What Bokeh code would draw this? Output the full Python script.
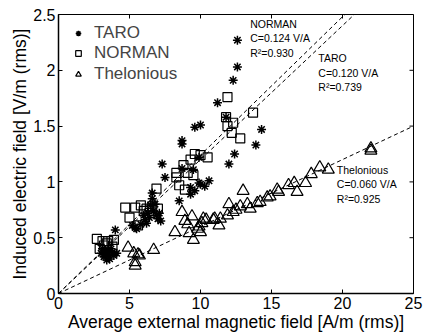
import math
from bokeh.plotting import figure
from bokeh.models import (FixedTicker, NumeralTickFormatter, Legend,
                          LegendItem, Label, Range1d)
from bokeh.embed import file_html
from bokeh.resources import INLINE

# ---- data ----
taro_x = [12.6, 12.6, 12.3, 11.2, 9.6, 10.0, 11.8, 8.7, 8.7, 14.3, 13.9, 12.4, 12.0,
          7.3, 7.5, 9.9, 10.6, 9.9, 9.6, 9.3, 8.5, 8.7, 9.5, 9.3, 10.0, 10.3,
          5.2, 5.5, 6.0, 6.2, 6.6, 6.7, 7.0, 7.2, 6.5, 6.8, 6.3, 6.9, 5.8, 6.4, 7.1, 6.6, 5.4, 6.1,
          3.0, 3.2, 3.3, 3.5, 3.6, 3.8, 3.4, 3.9, 4.1, 3.1, 3.7, 4.0, 3.3, 3.5]
taro_y = [2.27, 2.03, 1.91, 1.71, 1.49, 1.51, 1.58, 1.37, 1.34, 1.47, 1.33, 1.25, 1.16,
          1.16, 1.04, 1.22, 1.01, 0.99, 0.92, 0.89, 0.83, 1.12, 1.11, 0.95, 0.98, 0.96,
          0.61, 0.58, 0.70, 0.63, 0.85, 0.74, 0.67, 0.65, 0.79, 0.80, 0.72, 0.70, 0.62, 0.68, 0.72, 0.90, 0.59, 0.66,
          0.36, 0.33, 0.38, 0.35, 0.31, 0.37, 0.30, 0.34, 0.36, 0.40, 0.40, 0.57, 0.35, 0.39]

norman_x = [11.9, 11.8, 12.3, 11.9, 12.2, 12.8, 13.7, 9.6, 9.3, 10.0, 10.5, 8.8, 8.3, 9.1,
            9.5, 8.3, 8.5, 8.9, 6.9,
            4.7, 5.0, 5.4, 5.8, 5.6, 6.2, 7.0, 6.0, 6.4, 6.6,
            2.7, 3.1, 3.5, 3.9, 2.9, 3.4, 3.8, 3.2]
norman_y = [1.76, 1.58, 1.53, 1.50, 1.44, 1.39, 1.62, 1.25, 1.20, 1.24, 1.22, 1.15, 1.08, 1.08,
            1.06, 1.04, 0.97, 0.93, 0.94,
            0.77, 0.68, 0.77, 0.79, 0.61, 0.76, 0.76, 0.74, 0.72, 0.78,
            0.49, 0.47, 0.47, 0.48, 0.40, 0.45, 0.42, 0.43]

thel_x = [4.9, 5.3, 5.6, 5.7, 5.4, 5.4, 6.7, 8.2, 8.7, 9.4, 8.9, 9.1, 9.2, 9.5, 9.8,
          9.9, 10.0, 10.2, 10.1, 10.4, 10.9, 11.0, 11.3, 11.4, 11.9, 12.0, 12.3, 12.5,
          12.8, 13.0, 13.3, 13.5, 14.0, 14.2, 14.7, 14.9, 15.4, 15.5, 16.2, 16.6, 16.8,
          17.4, 17.8, 18.4, 19.0, 22.0, 22.0]
thel_y = [0.41, 0.36, 0.35, 0.34, 0.28, 0.25, 0.39, 0.55, 0.73, 0.69, 0.65, 0.62, 0.54, 0.48, 0.58,
          0.60, 0.55, 0.67, 0.63, 0.66, 0.66, 0.67, 0.61, 0.67, 0.70, 0.80, 0.73, 0.75,
          0.78, 0.92, 0.80, 0.76, 0.81, 0.82, 0.86, 0.87, 0.93, 0.91, 0.97, 0.99, 0.91,
          0.99, 1.07, 1.13, 1.11, 1.30, 1.28]

series_names = ["TARO", "NORMAN", "Thelonious"]
fit_names = ["NORMAN", "TARO", "Thelonious"]
fit_slopes = [0.124, 0.120, 0.060]
fit_r2 = [0.930, 0.739, 0.925]
fit_x = [0, 25]

x_ticks = [0, 5, 10, 15, 20, 25]
y_ticks = [0, 0.5, 1, 1.5, 2, 2.5]
X_MAX, Y_MAX = 25, 2.5

FONT = "Liberation Sans"

p = figure(width=424, height=335, output_backend="svg", toolbar_location=None,
           x_range=Range1d(0, X_MAX), y_range=Range1d(0, Y_MAX),
           min_border_left=58, min_border_right=11, min_border_top=14, min_border_bottom=42)
p.grid.visible = False
p.outline_line_color = "black"
p.outline_line_width = 1
p.background_fill_color = "white"
p.border_fill_color = "white"

for ax, ticks in ((p.xaxis[0], x_ticks), (p.yaxis[0], y_ticks)):
    ax.ticker = FixedTicker(ticks=ticks)
    ax.formatter = NumeralTickFormatter(format="0.[0]")
    ax.major_tick_in = 4
    ax.major_tick_out = 0
    ax.minor_tick_line_color = None
    ax.axis_line_width = 1.5
    ax.major_label_text_font = FONT
    ax.major_label_text_font_size = "16px"
    ax.major_label_text_color = "black"
    ax.axis_label_text_font = FONT
    ax.axis_label_text_font_size = "17.5px"
    ax.axis_label_text_font_style = "normal"
    ax.axis_label_text_color = "black"
    ax.major_label_standoff = 3
    ax.axis_label_standoff = 0

p.xaxis.axis_label = "Average external magnetic field [A/m (rms)]"
p.yaxis.axis_label = "Induced electric field [V/m (rms)]"

# mirrored inward ticks on the top and right edges
p.ray(x=x_ticks, y=[Y_MAX] * len(x_ticks), length=4, length_units="screen",
      angle=-math.pi / 2, line_color="black", line_width=1)
p.ray(x=[X_MAX] * len(y_ticks), y=y_ticks, length=4, length_units="screen",
      angle=math.pi, line_color="black", line_width=1)

# fit lines
for s in fit_slopes:
    p.line(fit_x, [s * v for v in fit_x], line_color="black", line_dash="4 3", line_width=1)

r_taro = p.scatter(taro_x, taro_y, marker="asterisk", size=9, line_color="black", line_width=1.5)
r_norm = p.scatter(norman_x, norman_y, marker="square", size=9, line_color="black",
                   fill_color=None, line_width=1.2)
r_thel = p.scatter(thel_x, thel_y, marker="triangle", size=12, line_color="black",
                   fill_color=None, line_width=1.2)

# one legend per entry, stacked top-left without a box
legend_y = [250, 230, 209]
for name, rend, ly in zip(series_names, [r_taro, r_norm, r_thel], legend_y):
    lg = Legend(items=[LegendItem(label=name, renderers=[rend])],
                location=(13, ly), padding=0, margin=0, spacing=0,
                glyph_width=14, glyph_height=20, label_height=20, label_standoff=9,
                border_line_color=None, background_fill_alpha=0,
                label_text_font=FONT, label_text_font_size="17px")
    p.add_layout(lg, "center")

# fit annotations
ann_pos = [(13.5, 2.47), (18.3, 2.16), (19.6, 1.16)]
for name, s, r2, (ax_, ay_) in zip(fit_names, fit_slopes, fit_r2, ann_pos):
    p.add_layout(Label(x=ax_, y=ay_, text=f"{name}\nC=%.3f V/A\nR\u00b2=%.3f" % (s, r2),
                       text_font=FONT, text_font_size="10.5px", text_baseline="top",
                       text_align="left", text_color="black", text_line_height=1.2))

open("out.html", "w").write(file_html(p, INLINE))
